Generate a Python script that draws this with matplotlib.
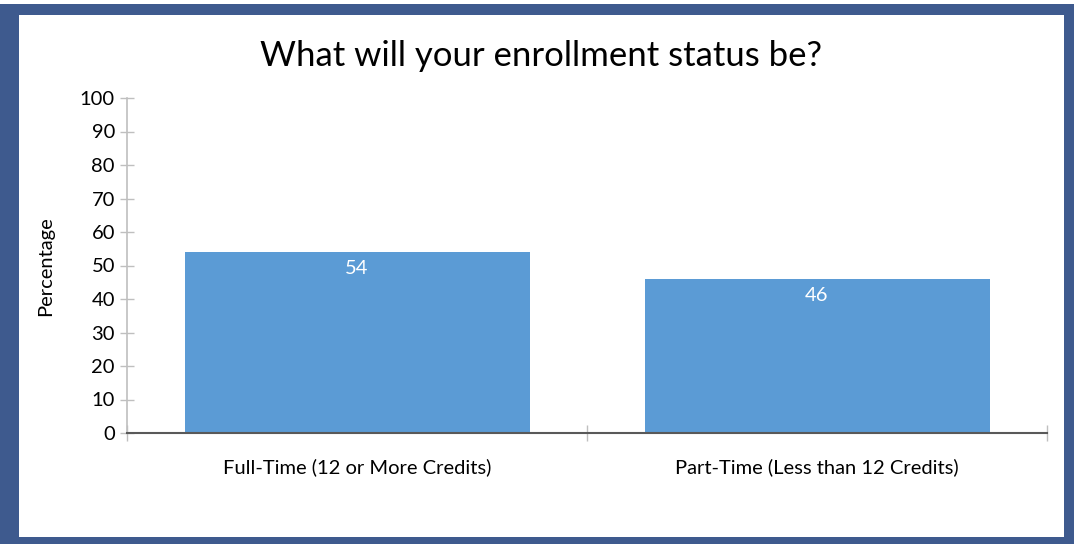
import matplotlib
matplotlib.use("Agg")
import matplotlib.pyplot as plt
from matplotlib.patches import Rectangle

categories = ["Full-Time (12 or More Credits)", "Part-Time (Less than 12 Credits)"]
values = [54, 46]
yticks = [0, 10, 20, 30, 40, 50, 60, 70, 80, 90, 100]
title = "What will your enrollment status be?"
ylabel = "Percentage"

plt.rcParams['font.family'] = ['Lato', 'DejaVu Sans']

W, H = 1074, 544
fig = plt.figure(figsize=(W / 100, H / 100), dpi=100)

# dark blue frame
frame_col = "#3E5A8E"
fig.patches.append(Rectangle((0, 0), 1, 1 - 4 / H, transform=fig.transFigure,
                             facecolor=frame_col, edgecolor="none", zorder=-10))
fig.patches.append(Rectangle((19 / W, 7 / H), (1064 - 19) / W, (537 - 15) / H,
                             transform=fig.transFigure, facecolor="white",
                             edgecolor="none", zorder=-9))

ax = fig.add_axes([127 / W, 1 - 433 / H, (1047 - 127) / W, (433 - 98) / H])
ax.patch.set_alpha(0)

fs = 14.5
x = list(range(len(categories)))
bars = ax.bar(x, values, width=0.75, color="#5B9BD5", zorder=2)
for xi, v in zip(x, values):
    ax.annotate(str(v), (xi, v), xytext=(0, -6), textcoords="offset points",
                ha="center", va="top", color="white", fontsize=fs)

ax.set_xlim(-0.5, len(categories) - 0.5)
ax.set_ylim(0, 100)
ax.set_yticks(yticks)
ax.set_yticklabels([str(t) for t in yticks], fontsize=fs)
ax.set_xticks([-0.5, 0.5, 1.5])
ax.set_xticklabels([])
ax.set_xticks(x, minor=True)
ax.set_xticklabels(categories, minor=True, fontsize=fs)
ax.tick_params(axis="x", which="minor", length=0, pad=18)
ax.tick_params(axis="x", which="major", direction="inout", length=11.5,
               color="#BFBFBF", width=1)
ax.tick_params(axis="y", direction="inout", length=9.4, color="#BFBFBF",
               width=1, pad=4)

for s in ["top", "right"]:
    ax.spines[s].set_visible(False)
ax.spines["left"].set_color("#BFBFBF")
ax.spines["left"].set_linewidth(1.2)
ax.spines["bottom"].set_color("#595959")
ax.spines["bottom"].set_linewidth(1.5)
ax.spines["bottom"].set_zorder(3)

fig.text(46 / W, 1 - 266 / H, ylabel, rotation=90, ha="center", va="center",
         fontsize=fs)
fig.text(541 / W, 1 - 56 / H, title, ha="center", va="center", fontsize=25)

fig.savefig("out.png", dpi=100)
